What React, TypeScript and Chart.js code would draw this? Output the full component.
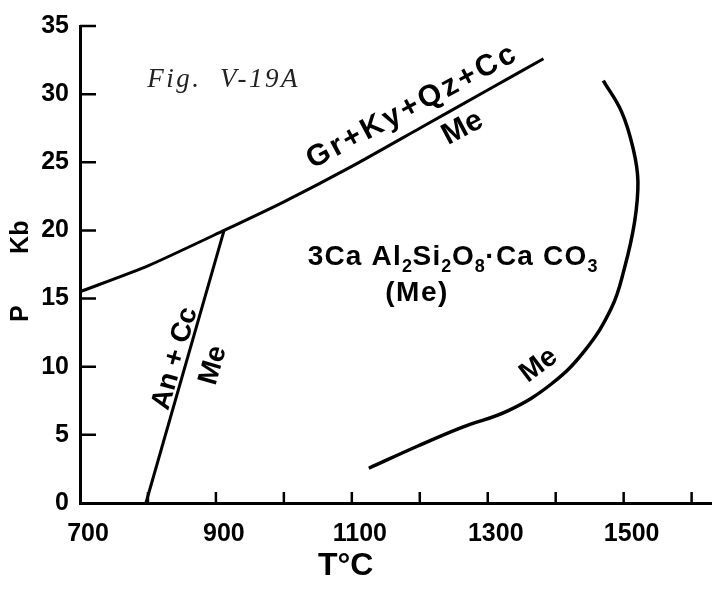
import React, { useEffect, useRef } from "react";
import { Chart, registerables } from "chart.js";

Chart.register(...registerables);

// ---- data ----
const TEMP_GR = [700, 800, 912, 1000, 1100, 1200, 1300, 1382];
const P_GR = [15.5, 17.4, 20.0, 22.1, 24.7, 27.5, 30.3, 32.6];

const TEMP_AN = [797, 912];
const P_AN = [0, 20.0];

const TEMP_ME = [1125, 1198, 1262, 1331, 1394, 1443, 1482, 1501, 1516, 1521, 1514, 1497, 1470];
const P_ME = [2.55, 4.2, 5.55, 6.8, 8.75, 11.2, 14.3, 17.2, 20.6, 23.6, 26.0, 28.7, 31.0];

const X_TICKS = [700, 800, 900, 1000, 1100, 1200, 1300, 1400, 1500, 1600];
const X_LABELED = [700, 900, 1100, 1300, 1500];
const Y_TICKS = [0, 5, 10, 15, 20, 25, 30, 35];

const X_TITLE = "T°C";
const Y_TITLE_P = "P";
const Y_TITLE_KB = "Kb";
const FIG_LABEL = "Fig.  V-19A";
const GR_LABEL = "Gr+Ky+Qz+Cc";
const ME_LABEL = "Me";
const AN_LABEL = "An + Cc";
const BRACKET_ME = "(Me)";
// formula pieces: [text, subscript?]
const FORMULA: [string, boolean][] = [
  ["3Ca Al", false],
  ["2", true],
  ["Si", false],
  ["2", true],
  ["O", false],
  ["8", true],
  ["·Ca CO", false],
  ["3", true],
];

const SANS = "'Liberation Sans', Arial, Helvetica, sans-serif";

function toPts(xs: number[], ys: number[]) {
  return xs.map((x, i) => ({ x, y: ys[i] }));
}

function drawRot(
  ctx: CanvasRenderingContext2D,
  text: string,
  x: number,
  y: number,
  font: string,
  angleDeg: number,
  align: CanvasTextAlign,
  baseline: CanvasTextBaseline,
  spacing = 0,
  color = "#000"
) {
  ctx.save();
  ctx.translate(x, y);
  ctx.rotate((angleDeg * Math.PI) / 180);
  ctx.font = font;
  (ctx as any).letterSpacing = spacing + "px";
  ctx.textAlign = align;
  ctx.textBaseline = baseline;
  ctx.fillStyle = color;
  ctx.fillText(text, 0, 0);
  ctx.restore();
}

const decorPlugin = {
  id: "decor",
  afterDatasetsDraw(chart: any) {
    const ctx: CanvasRenderingContext2D = chart.ctx;
    const xs = chart.scales.x;
    const ys = chart.scales.y;
    const px = (v: number) => xs.getPixelForValue(v);
    const py = (v: number) => ys.getPixelForValue(v);

    // inward tick marks
    ctx.save();
    ctx.strokeStyle = "#000";
    ctx.lineWidth = 2.5;
    ctx.beginPath();
    X_TICKS.forEach((v) => {
      if (v <= xs.min) return;
      const x = px(v);
      ctx.moveTo(x, ys.bottom);
      ctx.lineTo(x, ys.bottom - 11);
    });
    Y_TICKS.forEach((v) => {
      if (v <= ys.min) return;
      const y = py(v);
      ctx.moveTo(xs.left, y);
      ctx.lineTo(xs.left + 16, y);
    });
    ctx.stroke();
    ctx.restore();

    // figure caption
    drawRot(ctx, FIG_LABEL, px(799), py(30.5), "italic 27px 'Liberation Serif', 'DejaVu Serif', serif", 0, "left", "alphabetic", 2.5, "#222");

    // reaction labels
    drawRot(ctx, GR_LABEL, px(1042), py(24.5), `bold 30px ${SANS}`, -28, "left", "alphabetic", 3);
    drawRot(ctx, ME_LABEL, px(1263), py(27.5), `bold 30px ${SANS}`, -28, "center", "middle");
    drawRot(ctx, AN_LABEL, px(840), py(10.6), `bold 28px ${SANS}`, -74, "center", "middle");
    drawRot(ctx, ME_LABEL, px(896), py(10.1), `bold 28px ${SANS}`, -74, "center", "middle");
    drawRot(ctx, ME_LABEL, px(1375), py(10.1), `bold 28px ${SANS}`, -37, "center", "middle");

    // formula with subscripts
    ctx.save();
    let cx = px(1035);
    const by = py(17.5);
    ctx.fillStyle = "#000";
    ctx.textAlign = "left";
    ctx.textBaseline = "alphabetic";
    FORMULA.forEach(([t, sub]) => {
      ctx.font = sub ? `bold 18px ${SANS}` : `bold 28px ${SANS}`;
      (ctx as any).letterSpacing = sub ? "0.5px" : "1.2px";
      ctx.fillText(t, cx, sub ? by + 7 : by);
      cx += ctx.measureText(t).width;
    });
    ctx.restore();
    drawRot(ctx, BRACKET_ME, px(1196), py(15.4), `bold 28px ${SANS}`, 0, "center", "middle", 1.5);

    // axis titles
    drawRot(ctx, X_TITLE, px(1091), ys.bottom + 63, `bold 32px ${SANS}`, 0, "center", "middle");
    drawRot(ctx, Y_TITLE_P, 21, py(13.9), `bold 25px ${SANS}`, -90, "center", "middle");
    drawRot(ctx, Y_TITLE_KB, 21, py(19.5), `bold 25px ${SANS}`, -90, "center", "middle");
  },
};

export default function App() {
  const ref = useRef<HTMLCanvasElement | null>(null);

  useEffect(() => {
    document.body.style.margin = "0";
    if (!ref.current) return;
    const lineBase = {
      showLine: true,
      borderColor: "#000",
      pointRadius: 0,
      pointHoverRadius: 0,
      fill: false,
    };
    const chart = new Chart(ref.current, {
      type: "scatter",
      data: {
        datasets: [
          { ...lineBase, data: toPts(TEMP_GR, P_GR), borderWidth: 3, tension: 0.2 },
          { ...lineBase, data: toPts(TEMP_AN, P_AN), borderWidth: 3, tension: 0 },
          { ...lineBase, data: toPts(TEMP_ME, P_ME), borderWidth: 3.5, tension: 0.4 },
        ],
      } as any,
      options: {
        animation: false,
        responsive: false,
        layout: { padding: { top: 20, left: 0, right: 0, bottom: 0 } },
        plugins: { legend: { display: false }, tooltip: { enabled: false } },
        scales: {
          x: {
            type: "linear",
            min: 700,
            max: 1630,
            afterFit: (s: any) => {
              s.height = 88;
            },
            afterBuildTicks: (s: any) => {
              s.ticks = X_TICKS.map((v) => ({ value: v }));
            },
            grid: { display: false, drawTicks: false },
            border: { display: true, color: "#000", width: 3 },
            ticks: {
              autoSkip: false,
              maxRotation: 0,
              padding: 16,
              labelOffset: 8,
              color: "#000",
              font: { family: SANS, size: 25, weight: "bold" },
              callback: (v: any) => (X_LABELED.includes(Number(v)) ? String(v) : ""),
            },
          },
          y: {
            type: "linear",
            min: 0,
            max: 35,
            afterFit: (s: any) => {
              s.width = 80;
            },
            afterBuildTicks: (s: any) => {
              s.ticks = Y_TICKS.map((v) => ({ value: v }));
            },
            grid: { display: false, drawTicks: false },
            border: { display: true, color: "#000", width: 3 },
            ticks: {
              padding: 11,
              color: "#000",
              font: { family: SANS, size: 25, weight: "bold" },
              callback: (v: any) => String(v),
            },
          },
        },
      } as any,
      plugins: [decorPlugin],
    });
    return () => chart.destroy();
  }, []);

  return (
    <div style={{ width: 712, height: 591, background: "#fff" }}>
      <canvas ref={ref} width={712} height={591} style={{ display: "block" }} />
    </div>
  );
}
